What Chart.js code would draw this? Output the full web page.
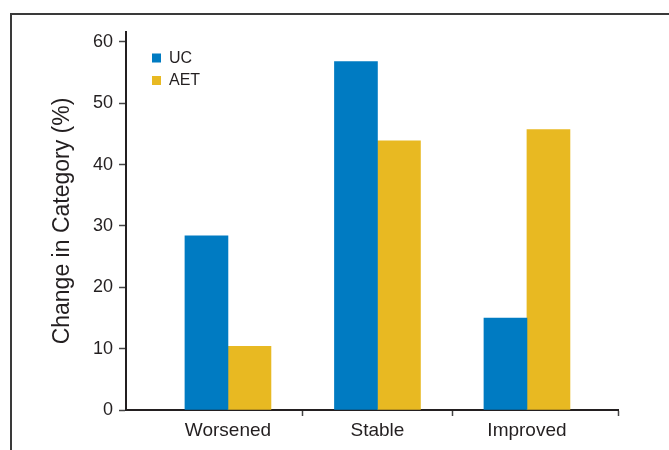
<!DOCTYPE html>
<html>
<head>
<meta charset="utf-8">
<title>Change in Category</title>
<script src="https://cdn.jsdelivr.net/npm/chart.js@4/dist/chart.umd.min.js"></script>
<style>
  html, body { margin: 0; padding: 0; background: #fff; }
  #wrap { position: relative; width: 669px; height: 450px; overflow: hidden; }
  /* figure frame: top and left rule only */
  #frame { position: absolute; left: 10px; top: 13px; right: -5px; bottom: -5px;
           border-top: 2px solid #3a3a3a; border-left: 2px solid #3a3a3a; }
  #chart { position: absolute; left: 0; top: 0; }
</style>
</head>
<body>
<div id="wrap">
  <div id="frame"></div>
  <canvas id="chart" width="669" height="450"></canvas>
</div>
<script>
// data
const categories = ['Worsened', 'Stable', 'Improved'];
const ucValues = [28.4, 56.8, 15.0];
const aetValues = [10.4, 43.9, 45.7];
const yTicks = [0, 10, 20, 30, 40, 50, 60];

const FONT = "'Liberation Sans', Arial, Helvetica, sans-serif";
const INK = '#231f20';

// category i sits at x = i + 1 on a linear axis so the frame can run past the groups
const toPoints = vals => vals.map((v, i) => ({ x: i + 1, y: v }));
const xMin = 0.318, xMax = 3.609;
const xMarks = [1.5, 2.5, xMax]; // boundary tick marks under the axis

// small legend drawn in the top-left of the plot
const cornerLegend = {
  id: 'cornerLegend',
  afterDraw(chart) {
    const { ctx, chartArea } = chart;
    ctx.save();
    ctx.font = '16px ' + FONT;
    ctx.textBaseline = 'middle';
    chart.data.datasets.forEach((ds, i) => {
      const y = chartArea.top + 26 + i * 22.5;
      ctx.fillStyle = ds.backgroundColor;
      ctx.fillRect(chartArea.left + 26, y - 4.5, 9, 9);
      ctx.fillStyle = INK;
      ctx.fillText(ds.label, chartArea.left + 43, y + 0.5);
    });
    ctx.restore();
  }
};

new Chart(document.getElementById('chart'), {
  type: 'bar',
  data: {
    datasets: [
      { label: 'UC', data: toPoints(ucValues), backgroundColor: '#007bc2' },
      { label: 'AET', data: toPoints(aetValues), backgroundColor: '#e8b922' }
    ]
  },
  options: {
    responsive: false,
    animation: false,
    barThickness: 43,
    layout: { padding: { top: 32, right: 51, left: 0, bottom: 0 } },
    plugins: { legend: { display: false }, tooltip: { enabled: false } },
    scales: {
      x: {
        type: 'linear',
        min: xMin,
        max: xMax,
        offset: false,
        afterBuildTicks: s => { s.ticks = [1, 2, 3].concat(xMarks).sort((a, b) => a - b).map(v => ({ value: v })); },
        afterFit: s => { s.height = 40; },
        grid: {
          offset: false,
          drawOnChartArea: false,
          tickLength: 6,
          tickWidth: 1.5,
          tickColor: c => Number.isInteger(c.tick && c.tick.value) ? 'rgba(0,0,0,0)' : '#444'
        },
        border: { display: true, color: INK, width: 2 },
        ticks: {
          autoSkip: false,
          maxRotation: 0,
          padding: 3,
          color: INK,
          font: { family: FONT, size: 19 },
          callback: v => Number.isInteger(v) ? categories[v - 1] : ''
        }
      },
      y: {
        min: 0,
        max: 61.63,
        afterBuildTicks: s => { s.ticks = yTicks.map(v => ({ value: v })); },
        afterFit: s => { s.width = 126; },
        grid: { drawOnChartArea: false, tickLength: 7, tickWidth: 1.5, tickColor: '#444' },
        border: { display: true, color: INK, width: 2 },
        ticks: { padding: 6, color: INK, font: { family: FONT, size: 18 } },
        title: {
          display: true,
          text: 'Change in Category (%)',
          color: INK,
          font: { family: FONT, size: 23 },
          padding: { top: 49, bottom: 0 }
        }
      }
    }
  },
  plugins: [cornerLegend]
});
</script>
</body>
</html>
